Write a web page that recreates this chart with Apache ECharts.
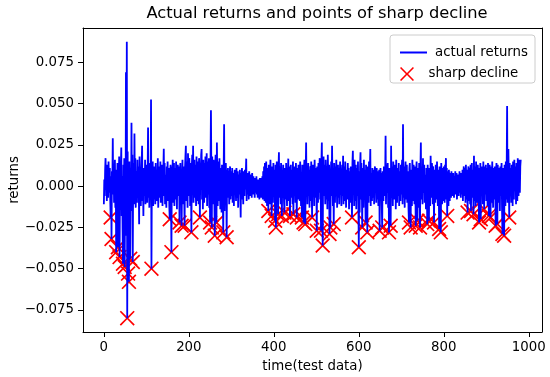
<!DOCTYPE html>
<html>
<head>
<meta charset="utf-8">
<script src="https://cdn.jsdelivr.net/npm/echarts@6/dist/echarts.min.js"></script>
<style>html,body{margin:0;padding:0;background:#fff}#c{width:550px;height:377px}</style>
</head>
<body>
<div id="c"></div>
<script>
// returns per time step (test data), t = 0..981
const returns = [
-0.011,0.004,-0.006,0.010,0.017,-0.002,0.008,-0.009,0.013,0.001,-0.007,0.015,0.003,-0.004,0.011,-0.008,-0.019,0.006,-0.032,0.009,
0.002,0.029,-0.005,0.012,-0.010,0.007,0.016,-0.013,0.004,-0.040,0.010,-0.006,0.014,-0.037,0.008,-0.003,0.018,-0.043,0.005,-0.012,
0.011,0.0235,-0.018,0.006,-0.025,-0.047,0.013,-0.009,0.017,-0.049,0.004,-0.030,0.069,-0.022,0.0875,-0.080,0.021,-0.053,0.012,-0.058,
0.015,-0.008,-0.044,0.010,-0.015,0.0385,-0.006,0.019,-0.046,0.008,0.014,-0.011,0.032,-0.004,0.017,-0.013,0.009,0.002,-0.010,0.016,
-0.007,0.012,0.004,-0.023,0.018,-0.002,0.009,-0.012,0.006,0.015,0.0245,-0.009,0.003,-0.018,0.011,0.001,-0.006,0.016,-0.011,0.007,
-0.004,0.013,-0.010,0.008,0.0355,-0.007,0.014,-0.013,0.002,0.010,-0.005,0.0526,-0.050,0.009,-0.003,0.015,-0.012,0.006,0.012,-0.008,
0.004,-0.011,0.014,0.001,-0.009,0.010,-0.004,0.017,-0.013,0.006,0.012,-0.007,0.003,0.015,-0.010,0.008,-0.002,0.013,-0.012,0.005,
0.010,0.0227,-0.006,0.014,-0.011,0.007,0.002,-0.013,0.012,-0.004,0.015,-0.009,0.006,0.011,-0.012,-0.020,0.009,0.013,-0.005,-0.040,
0.012,-0.003,0.016,-0.010,0.007,0.014,-0.012,0.003,0.011,-0.008,0.015,0.001,-0.014,0.009,0.013,-0.006,0.005,0.012,-0.022,0.008,
0.014,-0.007,0.010,-0.024,0.006,0.016,-0.011,0.004,0.012,-0.005,-0.024,0.011,0.018,0.0245,-0.009,0.015,0.002,-0.013,0.020,0.007,
-0.006,0.017,0.010,-0.012,0.014,0.003,-0.028,0.012,0.019,-0.004,0.0245,-0.010,0.008,0.016,-0.007,0.013,0.001,-0.012,0.018,0.006,
-0.009,0.015,0.004,-0.011,0.017,0.009,-0.019,0.013,0.002,0.019,0.0225,-0.008,0.011,-0.014,0.016,0.005,-0.010,0.014,0.001,0.018,
-0.007,0.012,0.020,-0.012,0.008,0.015,-0.005,0.017,-0.013,0.010,-0.022,0.014,0.046,0.006,-0.025,0.018,0.003,-0.011,0.016,0.009,
-0.008,-0.030,0.013,0.019,-0.006,-0.022,0.0265,0.004,-0.012,0.015,0.009,-0.009,0.017,0.002,-0.014,0.011,0.007,-0.016,0.013,0.003,
-0.010,-0.028,0.012,0.0375,-0.015,0.008,-0.004,0.014,0.002,-0.031,0.010,-0.007,0.011,-0.003,0.009,-0.011,0.006,0.012,-0.008,0.004,
0.009,-0.006,0.011,-0.010,0.003,0.008,-0.012,0.006,0.010,-0.004,0.002,-0.009,0.011,0.005,-0.007,0.009,-0.013,0.004,0.007,-0.005,
0.010,-0.003,-0.019,0.008,0.001,0.011,-0.008,0.005,-0.011,0.009,0.003,-0.006,0.010,-0.002,0.007,0.0167,-0.009,0.004,0.008,-0.005,
0.006,-0.008,0.009,0.002,-0.006,0.007,-0.003,0.005,-0.007,0.008,0.001,-0.005,0.006,-0.002,0.004,-0.007,0.005,0.000,-0.004,0.006,
-0.005,0.004,-0.007,0.003,-0.006,0.004,-0.008,0.005,-0.004,0.003,-0.007,0.005,-0.005,0.006,-0.008,0.009,-0.006,0.012,-0.009,0.014,
0.004,-0.010,0.015,0.002,-0.012,0.011,0.006,-0.015,0.013,-0.004,0.009,-0.011,0.016,0.003,-0.008,-0.018,0.012,0.007,-0.010,0.014,
-0.006,0.010,0.004,-0.021,0.013,-0.025,0.008,0.015,-0.009,0.003,-0.017,0.011,0.0205,-0.007,0.012,0.001,-0.011,0.014,0.006,-0.018,
0.009,-0.005,0.013,0.002,-0.010,-0.016,0.011,0.005,-0.008,0.014,0.000,-0.012,0.010,0.004,0.0167,-0.009,0.012,-0.004,-0.018,0.008,
0.013,-0.007,0.010,0.003,-0.011,0.015,-0.017,0.006,0.012,-0.006,0.009,-0.010,0.014,0.001,-0.019,0.011,0.005,-0.008,0.013,-0.003,
0.010,-0.009,0.015,0.004,-0.012,0.008,-0.019,0.013,0.002,-0.006,-0.022,0.011,0.016,-0.008,-0.023,0.009,0.0265,-0.004,0.012,-0.011,
0.007,0.014,-0.006,0.010,-0.013,0.003,0.012,-0.009,0.015,0.001,-0.019,0.008,0.013,-0.005,0.010,-0.012,0.016,0.004,-0.007,0.011,
0.006,-0.027,0.012,0.003,-0.010,0.014,-0.004,0.009,0.017,-0.008,0.011,-0.027,0.015,0.0265,-0.012,-0.036,0.010,0.018,-0.006,0.013,
0.002,-0.011,0.016,0.007,-0.008,0.012,-0.014,0.019,0.004,-0.009,0.013,-0.029,0.010,-0.025,0.008,0.015,-0.006,0.0245,0.003,-0.012,
0.011,-0.023,0.014,0.005,-0.010,0.012,-0.004,0.016,0.001,-0.013,0.009,0.013,-0.007,0.011,-0.011,0.006,0.015,-0.005,0.010,-0.012,
0.008,0.013,-0.006,0.0185,-0.011,0.004,0.012,-0.009,0.015,0.002,-0.013,0.010,0.006,-0.008,0.014,-0.004,0.011,-0.014,0.009,0.003,
-0.010,0.012,0.005,-0.007,-0.019,0.014,0.0215,-0.005,0.010,-0.012,0.016,0.002,-0.009,0.013,-0.014,0.008,0.011,-0.006,0.015,-0.011,
-0.037,0.009,-0.016,0.012,0.0205,-0.008,0.014,0.003,-0.025,0.011,0.006,-0.013,0.016,-0.004,0.010,0.001,-0.022,0.013,-0.009,0.007,
-0.028,0.012,0.004,-0.010,0.015,-0.006,0.009,0.0225,-0.012,0.008,0.002,-0.009,0.011,0.005,-0.007,0.010,-0.011,0.006,0.012,-0.004,
0.008,-0.010,0.011,0.003,-0.008,0.009,-0.012,0.006,0.010,-0.027,0.004,0.011,-0.007,0.008,-0.011,-0.025,0.009,0.002,-0.009,0.012,
-0.006,0.010,0.005,0.0305,-0.011,0.013,-0.004,0.008,0.014,-0.013,0.007,-0.028,0.011,0.002,-0.009,-0.024,0.0245,-0.007,0.012,0.004,
-0.012,0.015,0.006,-0.008,0.013,-0.003,0.010,-0.014,0.016,0.002,-0.010,0.011,0.007,-0.006,0.014,-0.012,0.009,0.003,-0.009,0.013,
-0.005,0.011,0.016,-0.011,0.0375,-0.007,0.012,0.004,-0.013,0.010,0.015,-0.008,0.006,0.013,-0.010,0.009,0.002,-0.014,-0.022,0.011,
0.014,-0.006,-0.025,0.010,0.005,-0.012,0.016,0.002,-0.009,0.013,0.007,-0.011,0.012,0.001,-0.024,0.009,0.015,-0.007,-0.021,0.011,
0.006,-0.013,0.014,0.003,-0.025,0.010,0.0265,-0.008,0.012,0.005,-0.011,0.017,-0.004,0.009,0.013,-0.010,0.007,0.002,-0.014,0.011,
0.008,-0.023,0.013,0.004,-0.009,-0.021,0.011,0.006,-0.012,0.0185,0.003,-0.007,0.014,0.009,-0.011,0.012,0.001,-0.022,0.010,0.005,
-0.010,0.013,0.007,-0.008,0.015,0.002,-0.012,0.010,0.005,-0.026,0.012,-0.006,0.009,-0.028,0.014,0.003,-0.011,0.011,0.006,-0.009,
0.012,0.004,-0.010,0.013,0.007,0.017,-0.008,0.011,-0.018,0.009,0.002,-0.012,0.010,0.005,-0.009,0.008,0.003,-0.007,0.009,-0.004,
0.007,-0.006,0.008,0.002,-0.007,0.006,-0.003,0.009,-0.005,0.004,0.008,-0.008,0.005,-0.002,0.007,-0.006,0.003,0.009,-0.004,0.006,
-0.007,0.008,0.001,-0.005,0.010,-0.009,0.006,0.012,-0.006,0.004,0.011,-0.010,0.013,0.002,-0.008,0.010,-0.016,0.007,0.012,-0.009,
0.011,0.003,-0.011,0.013,-0.015,0.008,0.014,-0.007,0.010,0.002,-0.017,0.0185,-0.009,0.012,0.005,-0.012,0.015,-0.004,0.009,-0.010,
0.013,0.006,-0.008,-0.022,0.011,0.003,0.014,-0.020,0.009,0.012,-0.006,0.010,-0.011,0.015,0.004,-0.014,0.012,-0.005,0.008,0.013,
-0.009,0.011,0.005,-0.012,0.014,0.002,-0.018,0.010,0.013,-0.007,-0.019,0.012,0.006,-0.010,0.015,0.001,-0.013,0.011,0.007,-0.008,
0.012,0.004,-0.024,0.010,0.014,-0.011,-0.023,0.013,0.003,-0.010,0.011,0.007,-0.015,0.012,-0.006,0.009,0.014,-0.013,-0.029,0.008,
0.011,-0.017,-0.030,0.013,0.005,-0.012,0.015,-0.008,0.010,0.0486,-0.010,0.012,0.0225,0.004,-0.019,0.014,-0.006,0.011,0.002,-0.010,
0.013,0.006,-0.012,0.015,0.003,-0.008,0.016,-0.003,0.012,0.007,-0.011,0.014,0.004,-0.009,0.017,0.001,-0.006,0.016,0.009,-0.004,0.012,0.016
];

// time indices flagged as sharp decline
const declineIdx = [16,18,29,33,37,45,49,55,57,59,62,68,112,155,159,178,183,190,206,226,250,254,261,265,281,289,
387,395,403,405,410,419,425,438,446,454,466,470,474,490,501,511,515,531,533,541,584,600,608,616,620,649,655,671,675,
718,722,734,738,744,761,765,777,789,793,808,856,864,870,883,887,895,906,910,922,926,938,942,954];

const xTicks = [0, 200, 400, 600, 800, 1000];
const yTicks = [-0.075, -0.05, -0.025, 0, 0.025, 0.05, 0.075];

const lineData = returns.map((v, i) => [i, v]);
const declineData = declineIdx.map(i => [i, returns[i]]);

const X_PATH = 'path://M0,0.8L0.8,0L5,4.2L9.2,0L10,0.8L5.8,5L10,9.2L9.2,10L5,5.8L0.8,10L0,9.2L4.2,5Z';
const FONT = 'DejaVu Sans';
const fmtY = v => (v < 0 ? '\u2212' : '') + Math.abs(v).toFixed(3);
const fmtX = v => String(Math.round(v));

const chart = echarts.init(document.getElementById('c'), null, {renderer: 'canvas'});
chart.setOption({
  animation: false,
  backgroundColor: '#fff',
  textStyle: {fontFamily: FONT},
  title: {
    text: 'Actual returns and points of sharp decline',
    left: 312, top: 1, textAlign: 'center',
    textStyle: {fontFamily: FONT, fontSize: 16.3, fontWeight: 'normal', color: '#000'}
  },
  grid: {left: 83, right: 8, top: 28, bottom: 45, outerBoundsMode: 'none', containLabel: false},
  graphic: [{
    type: 'rect', shape: {x: 390, y: 35, width: 145, height: 48, r: 3},
    style: {fill: 'rgba(255,255,255,0.8)', stroke: '#cccccc', lineWidth: 1}, z: 50
  }],
  legend: [{
    data: [{name: 'actual returns', icon: 'path://M0,0L27,0L27,2L0,2Z'}],
    left: 395, top: 41, itemWidth: 27, itemHeight: 13, z: 60,
    textStyle: {fontFamily: FONT, fontSize: 13.33, color: '#000', padding: [0, 0, 0, 3]}
  }, {
    data: [{name: 'sharp decline', icon: X_PATH}],
    left: 395, top: 62, itemWidth: 27, itemHeight: 14, z: 60,
    textStyle: {fontFamily: FONT, fontSize: 13.33, color: '#000', padding: [0, 0, 0, 3]}
  }],
  xAxis: [{
    type: 'value', min: -49.1, max: 1031.1,
    name: 'time(test data)', nameLocation: 'middle', nameGap: 28, nameMoveOverlap: false,
    nameTextStyle: {fontFamily: FONT, fontSize: 13.33, color: '#000'},
    axisLine: {show: true, onZero: false, lineStyle: {color: '#000', width: 1}},
    axisTick: {show: true, length: 5, lineStyle: {color: '#000', width: 1}, customValues: xTicks},
    axisLabel: {customValues: xTicks, margin: 9, fontFamily: FONT, fontSize: 13.33, color: '#000', formatter: fmtX},
    splitLine: {show: false}
  }, {
    type: 'value', position: 'top', min: -49.1, max: 1031.1,
    axisLine: {show: true, onZero: false, lineStyle: {color: '#000', width: 1}},
    axisTick: {show: false}, axisLabel: {show: false}, splitLine: {show: false}
  }],
  yAxis: [{
    type: 'value', min: -0.0884, max: 0.0959,
    name: 'returns', nameLocation: 'middle', nameGap: 62, nameMoveOverlap: false,
    nameTextStyle: {fontFamily: FONT, fontSize: 13.33, color: '#000'},
    axisLine: {show: true, onZero: false, lineStyle: {color: '#000', width: 1}},
    axisTick: {show: true, length: 5, lineStyle: {color: '#000', width: 1}, customValues: yTicks},
    axisLabel: {customValues: yTicks, margin: 9, fontFamily: FONT, fontSize: 13.33, color: '#000', formatter: fmtY},
    splitLine: {show: false}
  }, {
    type: 'value', position: 'right', min: -0.0884, max: 0.0959,
    axisLine: {show: true, onZero: false, lineStyle: {color: '#000', width: 1}},
    axisTick: {show: false}, axisLabel: {show: false}, splitLine: {show: false}
  }],
  series: [{
    name: 'actual returns', type: 'line', data: lineData,
    xAxisIndex: 0, yAxisIndex: 0,
    showSymbol: false, symbol: 'none',
    lineStyle: {color: '#0000ff', width: 1.8},
    itemStyle: {color: '#0000ff'},
    emphasis: {disabled: true}
  }, {
    name: 'sharp decline', type: 'scatter', data: declineData,
    xAxisIndex: 0, yAxisIndex: 0,
    symbol: X_PATH, symbolSize: 15,
    itemStyle: {color: '#ff0000', opacity: 1},
    emphasis: {disabled: true}
  }]
});
</script>
</body>
</html>
